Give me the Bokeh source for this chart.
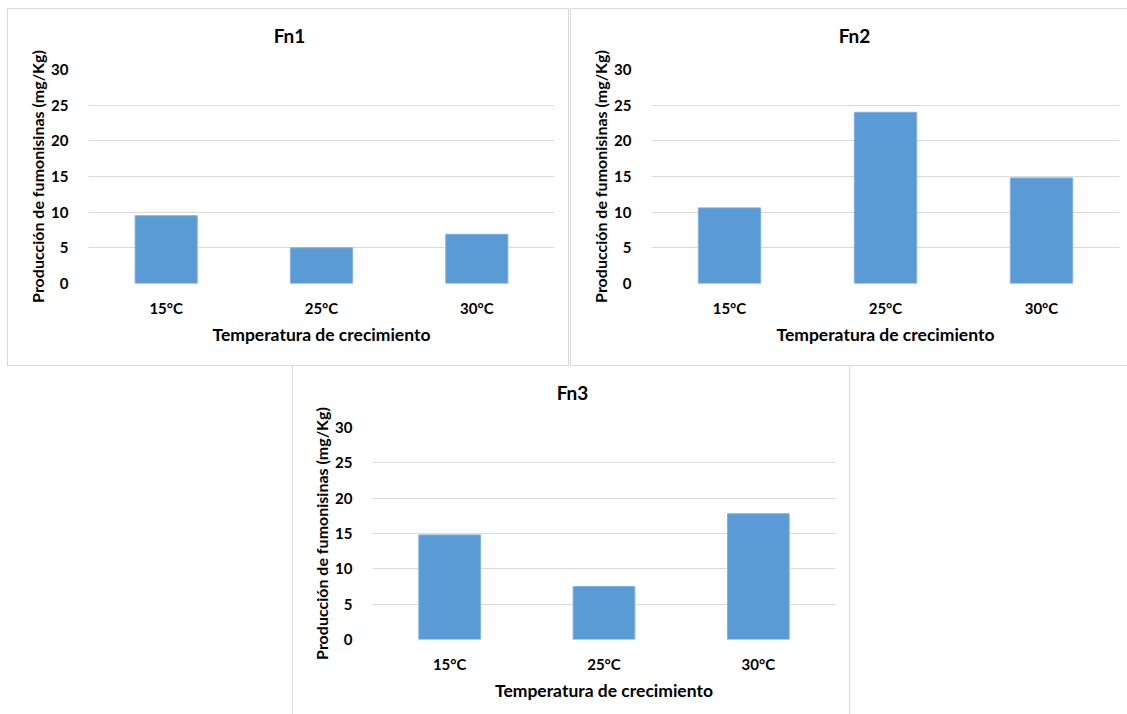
from bokeh.plotting import figure
from bokeh.models import FactorRange, Range1d, FixedTicker, Label, Spacer
from bokeh.layouts import row, column
from bokeh.embed import file_html
from bokeh.resources import INLINE

categories = ["15°C", "25°C", "30°C"]
fn1_values = [9.5, 5.0, 6.9]
fn2_values = [10.6, 24.0, 14.8]
fn3_values = [14.8, 7.5, 17.8]
titles = ["Fn1", "Fn2", "Fn3"]
y_ticks = [0, 5, 10, 15, 20, 25, 30]
x_label = "Temperatura de crecimiento"
y_label = "Producción de fumonisinas (mg/Kg)"

FONT = "Lato"
BAR = "#5b9bd5"
GRID = "#d9d9d9"
TXT = "#000000"


def make_panel(title, values, w, h, mb_left, mb_right, mb_top, mb_bottom,
               title_x, border):
    p = figure(x_range=FactorRange(*categories, range_padding=0),
               y_range=Range1d(0, 30), width=w, height=h,
               output_backend="svg", toolbar_location=None,
               min_border_left=mb_left, min_border_right=mb_right,
               min_border_top=mb_top, min_border_bottom=mb_bottom)
    p.title = None
    lbl = Label(x=mb_left + title_x, y=mb_top - 35, x_units="canvas", y_units="canvas",
                text=title, text_font=FONT, text_font_size="19px",
                text_font_style="bold", text_color=TXT,
                text_align="center", text_baseline="middle")
    p.add_layout(lbl, "above")
    p.vbar(x=categories, top=values, width=0.4, fill_color=BAR,
           line_color="#7fb2e0", line_width=1)
    p.outline_line_color = None
    p.xgrid.grid_line_color = None
    p.ygrid.grid_line_color = GRID
    p.ygrid.grid_line_width = 1
    p.yaxis.ticker = FixedTicker(ticks=y_ticks)
    for ax in (p.xaxis[0], p.yaxis[0]):
        ax.axis_line_color = None
        ax.major_tick_line_color = None
        ax.minor_tick_line_color = None
        ax.major_label_text_font = FONT
        ax.major_label_text_font_size = "15px"
        ax.major_label_text_font_style = "bold"
        ax.major_label_text_color = TXT
        ax.axis_label_text_font = FONT
        ax.axis_label_text_font_style = "bold"
        ax.axis_label_text_color = TXT
    p.xaxis.axis_label_text_font_size = "17.5px"
    p.yaxis.axis_label_text_font_size = "16px"
    p.yaxis.axis_label = y_label
    p.xaxis.axis_label = x_label
    p.yaxis.major_label_standoff = 14
    p.yaxis.axis_label_standoff = 1
    p.xaxis.major_label_standoff = 9
    p.xaxis.axis_label_standoff = 4
    p.styles = dict(border, **{"box-sizing": "border-box"})
    p.background_fill_color = "white"
    p.border_fill_color = "white"
    return p


full = {"border": "1px solid #d9d9d9"}
no_top = {"border": "1px solid #d9d9d9", "border-top": "none"}

p1 = make_panel(titles[0], fn1_values, 562, 358, 80, 16, 60, 84, 200, full)
p2 = make_panel(titles[1], fn2_values, 560, 358, 80, 12, 60, 84, 202, full)
p3 = make_panel(titles[2], fn3_values, 558, 360, 79, 16, 61, 87, 199, no_top)

layout = column(
    Spacer(height=8),
    row(Spacer(width=7), p1, Spacer(width=1), p2),
    row(Spacer(width=292), p3),
)

open("out.html", "w").write(file_html(layout, INLINE))
